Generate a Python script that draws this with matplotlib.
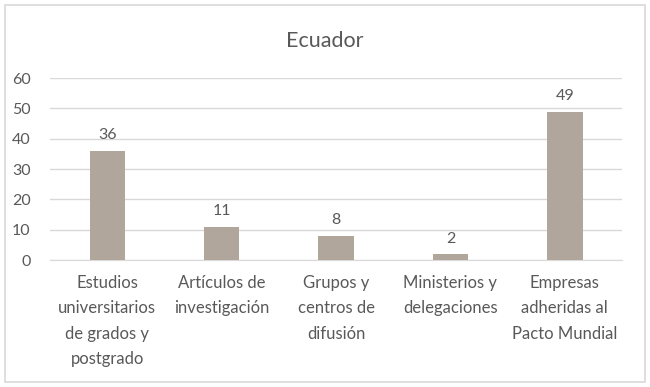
import matplotlib.pyplot as plt
from matplotlib.patches import Rectangle

categories = ["Estudios\nuniversitarios\nde grados y\npostgrado",
              "Artículos de\ninvestigación",
              "Grupos y\ncentros de\ndifusión",
              "Ministerios y\ndelegaciones",
              "Empresas\nadheridas al\nPacto Mundial"]
values = [36, 11, 8, 2, 49]

plt.rcParams['font.family'] = ['Lato', 'DejaVu Sans']
text_color = '#595959'

fig = plt.figure(figsize=(6.5, 3.87), dpi=100)
ax = fig.add_axes([0.077, 0.328, 0.88, 0.47])

x = range(len(values))
bars = ax.bar(x, values, width=0.31, color='#b0a69c', zorder=3)
for xi, v in zip(x, values):
    ax.text(xi, v + 2.8, str(v), ha='center', va='bottom', fontsize=11.5, color=text_color)

ax.set_xlim(-0.5, 4.5)
ax.set_ylim(0, 60)
ax.set_yticks(range(0, 61, 10))
ax.grid(axis='y', color='#d9d9d9', linewidth=1, zorder=0)
ax.set_xticks(list(x))
ax.set_xticklabels(categories, fontsize=12, color=text_color, linespacing=1.7, va='top')
ax.tick_params(axis='x', length=0, pad=11)
ax.tick_params(axis='y', length=0, pad=14, labelsize=11.5, labelcolor=text_color)
for side in ['top', 'right', 'left']:
    ax.spines[side].set_visible(False)
ax.spines['bottom'].set_color('#d9d9d9')

fig.text(0.5, 0.895, "Ecuador", ha='center', va='center', fontsize=15.5, color=text_color)

fig.patches.append(Rectangle((0.008, 0.012), 0.984, 0.976, transform=fig.transFigure,
                             fill=False, edgecolor='#d9d9d9', linewidth=1.2))

fig.savefig("out.png", dpi=100)
